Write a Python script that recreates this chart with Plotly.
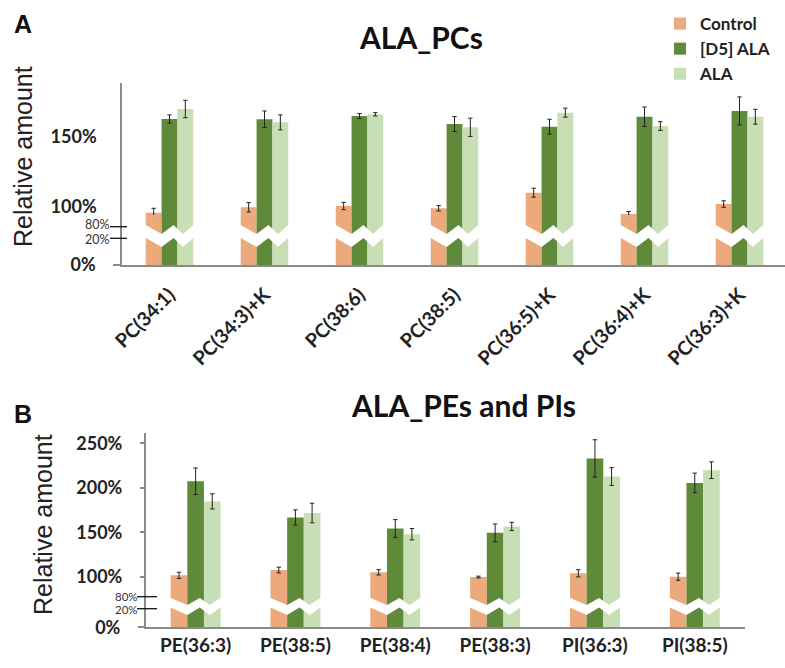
import plotly.graph_objects as go

# ---------------- data ----------------
categories_A = ["PC(34:1)", "PC(34:3)+K", "PC(38:6)", "PC(38:5)",
                "PC(36:5)+K", "PC(36:4)+K", "PC(36:3)+K"]
control_A = [95.9, 99.8, 100.7, 99.1, 110.2, 95.0, 102.1]
control_A_err = [3.2, 3.3, 2.6, 1.9, 3.2, 1.8, 2.3]
d5_A = [162.6, 162.4, 164.7, 159.0, 157.1, 164.2, 168.3]
d5_A_err = [2.9, 5.9, 1.8, 5.3, 5.3, 6.9, 10.0]
ala_A = [169.7, 160.2, 165.9, 156.7, 167.1, 157.6, 164.2]
ala_A_err = [6.2, 5.3, 1.2, 6.5, 3.2, 3.1, 5.3]

categories_B = ["PE(36:3)", "PE(38:5)", "PE(38:4)", "PE(38:3)", "PI(36:3)", "PI(38:5)"]
control_B = [101.5, 107.5, 104.9, 99.6, 103.8, 100.0]
control_B_err = [3.5, 3.2, 3.0, 1.0, 4.0, 4.0]
d5_B = [207.3, 166.7, 154.2, 149.3, 233.0, 205.5]
d5_B_err = [15.0, 8.5, 10.0, 10.0, 21.0, 11.0]
ala_B = [184.7, 171.6, 147.8, 156.5, 212.6, 219.8]
ala_B_err = [8.5, 11.0, 6.4, 4.7, 10.0, 9.4]

series_names = ["Control", "[D5] ALA", "ALA"]
ticks_A_upper = [100, 150]
ticks_B_upper = [100, 150, 200, 250]
ticks_lower = [0]

# ---------------- styling ----------------
W, H = 785, 668
COLORS = {"Control": "#EBA97C", "[D5] ALA": "#5E8A3A", "ALA": "#C8DFB5"}
AXIS_GRAY = "#8a8a8a"
FONT = "Lato"


def py(p):
    return 1 - p / H


def px(p):
    return p / W


fig = go.Figure()

panel_A = [(control_A, control_A_err), (d5_A, d5_A_err), (ala_A, ala_A_err)]
panel_B = [(control_B, control_B_err), (d5_B, d5_B_err), (ala_B, ala_B_err)]

err_style = dict(type="data", color="#222222", thickness=1, width=2.2)

for name, (vals, errs) in zip(series_names, panel_A):
    fig.add_bar(x=categories_A, y=vals, name=name, marker_color=COLORS[name],
                marker_line_width=0, error_y=dict(array=errs, **err_style),
                xaxis="x", yaxis="y", legendgroup=name)
    fig.add_bar(x=categories_A, y=vals, name=name, marker_color=COLORS[name],
                marker_line_width=0, xaxis="x", yaxis="y2",
                legendgroup=name, showlegend=False)

for name, (vals, errs) in zip(series_names, panel_B):
    fig.add_bar(x=categories_B, y=vals, name=name, marker_color=COLORS[name],
                marker_line_width=0, error_y=dict(array=errs, **err_style),
                xaxis="x2", yaxis="y3", legendgroup=name, showlegend=False)
    fig.add_bar(x=categories_B, y=vals, name=name, marker_color=COLORS[name],
                marker_line_width=0, xaxis="x2", yaxis="y4",
                legendgroup=name, showlegend=False)

tickfont = dict(family=FONT, size=18, color="#222222", weight="bold")

fig.update_layout(
    width=W, height=H,
    margin=dict(l=0, r=0, t=0, b=0),
    paper_bgcolor="white", plot_bgcolor="white",
    font=dict(family=FONT, color="#222222"),
    barmode="group", bargap=0.5, bargroupgap=0,
    showlegend=True,
    legend=dict(x=px(660), y=py(6), xanchor="left", yanchor="top",
                font=dict(family=FONT, size=17, color="#222222", weight="bold"),
                bgcolor="rgba(0,0,0,0)", traceorder="normal", itemclick=False),
    # ---- panel A ----
    xaxis=dict(domain=[px(122), 1.0], range=[-0.5, -0.5 + 663 / 95], anchor="y2",
               showline=True, linecolor=AXIS_GRAY, linewidth=1.5, showgrid=False,
               zeroline=False, ticks="", tickangle=-45, automargin=False,
               ticklabelstandoff=9,
               tickfont=dict(family=FONT, size=19.5, color="#222222", weight="bold")),
    yaxis=dict(domain=[py(240), py(83)], range=[76.53, 188.19], anchor="x",
               showline=True, linecolor=AXIS_GRAY, linewidth=1.5, showgrid=False,
               zeroline=False, tickvals=ticks_A_upper,
               ticktext=[f"{v}%" for v in ticks_A_upper], ticks="",
               ticklabelstandoff=20, tickfont=tickfont, automargin=False),
    yaxis2=dict(domain=[py(265), py(215)], range=[0, 37.45], anchor="x",
                showline=True, linecolor=AXIS_GRAY, linewidth=1.5, showgrid=False,
                zeroline=False, tickvals=ticks_lower,
                ticktext=[f"{v}%" for v in ticks_lower], ticks="outside",
                ticklen=7, tickcolor=AXIS_GRAY, tickwidth=1.5,
                ticklabelstandoff=14, tickfont=tickfont, automargin=False),
    # ---- panel B ----
    xaxis2=dict(domain=[px(145.7), px(744.7)], range=[-0.5, 5.5], anchor="y4",
                showline=True, linecolor=AXIS_GRAY, linewidth=1.5, showgrid=False,
                zeroline=False, ticks="", tickangle=0, automargin=False,
                tickfont=dict(family=FONT, size=19, color="#222222", weight="bold")),
    yaxis3=dict(domain=[py(612), py(433)], range=[60.29, 261.6], anchor="x2",
                showline=True, linecolor=AXIS_GRAY, linewidth=1.5, showgrid=False,
                zeroline=False, tickvals=ticks_B_upper,
                ticktext=[f"{v}%" for v in ticks_B_upper], ticks="outside",
                ticklen=4, tickcolor=AXIS_GRAY, tickwidth=1.5,
                ticklabelstandoff=14, tickfont=tickfont, automargin=False),
    yaxis4=dict(domain=[py(627.3), py(588)], range=[0, 42.26], anchor="x2",
                showline=True, linecolor=AXIS_GRAY, linewidth=1.5, showgrid=False,
                zeroline=False, tickvals=ticks_lower,
                ticktext=[f"{v}%" for v in ticks_lower], ticks="outside",
                ticklen=6, tickcolor=AXIS_GRAY, tickwidth=1.5,
                ticklabelstandoff=14, tickfont=tickfont, automargin=False),
)

# ---------------- axis-break decorations ----------------
ZIG_OFFS = [-0.15, 0.0, 1.0, 1.75, 2.35, 3.0, 3.15]
ZIG_HL = [1, 1, 0, 1, 0, 1, 1]  # 1 = high point, 0 = low point


def band_path(n_groups, top_hi, top_lo, bot_hi, bot_lo, xref):
    out = []
    bw = 0.5 / 3
    for i in range(n_groups):
        left = i - 0.25
        top = [(left + o * bw, py(top_hi if h else top_lo)) for o, h in zip(ZIG_OFFS, ZIG_HL)]
        bot = [(left + o * bw, py(bot_hi if h else bot_lo)) for o, h in zip(ZIG_OFFS, ZIG_HL)]
        pts = top + bot[::-1]
        path = "M " + " L ".join(f"{x:.4f},{y:.5f}" for x, y in pts) + " Z"
        out.append(dict(type="path", path=path, xref=xref, yref="paper",
                        fillcolor="white", line=dict(width=0), layer="above"))
    return out


shapes = []
shapes += band_path(len(categories_A), 225, 234, 238, 247, "x")
shapes += band_path(len(categories_B), 598, 605, 607.5, 615, "x2")

for ypix, x0, x1 in [(226.7, 110, 127), (238.3, 110, 127), (596.7, 137, 157), (608.7, 137, 157)]:
    shapes.append(dict(type="line", xref="paper", yref="paper", x0=px(x0), x1=px(x1),
                       y0=py(ypix), y1=py(ypix), line=dict(color="#111111", width=1.3)))
fig.update_layout(shapes=shapes)

# ---------------- text ----------------
ann = []
ann.append(dict(text="A", x=px(12), y=py(24), xanchor="left", yanchor="middle",
                font=dict(family="Liberation Sans", size=25, color="#111111", weight="bold")))
ann.append(dict(text="B", x=px(12), y=py(414), xanchor="left", yanchor="middle",
                font=dict(family="Liberation Sans", size=25, color="#111111", weight="bold")))
ann.append(dict(text="ALA_PCs", x=px(421), y=py(37), xanchor="center", yanchor="middle",
                font=dict(family=FONT, size=30, color="#111111", weight="bold")))
ann.append(dict(text="ALA_PEs and PIs", x=px(463), y=py(405), xanchor="center", yanchor="middle",
                font=dict(family=FONT, size=30, color="#111111", weight="bold")))
for xc, yc in [(23, 157), (43, 525)]:
    ann.append(dict(text="Relative amount", x=px(xc), y=py(yc), xanchor="center",
                    yanchor="middle", textangle=-90,
                    font=dict(family="Liberation Sans", size=25, color="#222222")))
for label, xr, yc, fs in [("80%", 111, 224.5, 12.5), ("20%", 111, 240, 12.5),
                          ("80%", 139, 596, 11.5), ("20%", 139, 609, 11.5)]:
    ann.append(dict(text=label, x=px(xr), y=py(yc), xanchor="right", yanchor="middle",
                    borderpad=0,
                    font=dict(family=FONT, size=fs, color="#333333")))
for a in ann:
    a.update(xref="paper", yref="paper", showarrow=False)
fig.update_layout(annotations=ann)

fig.write_html("out.html", config={"displayModeBar": False},
               post_script="document.body.style.margin='0';")
